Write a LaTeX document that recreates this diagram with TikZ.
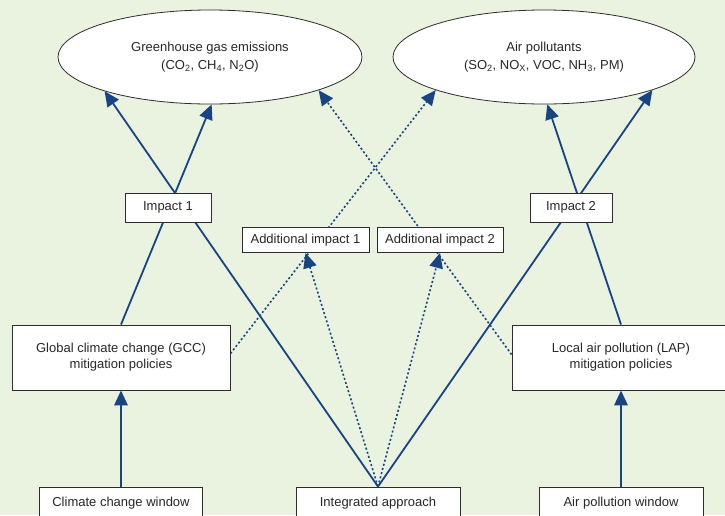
\documentclass[tikz,border=0pt]{standalone}
\usepackage{fontspec}
\setmainfont{Liberation Sans}
\usetikzlibrary{arrows.meta,shapes.geometric}
\definecolor{bgc}{RGB}{234,242,224}
\definecolor{navy}{RGB}{24,68,132}
\definecolor{bordc}{RGB}{45,45,45}
\definecolor{txt}{RGB}{40,40,40}
\pgfdeclarelayer{back}
\pgfdeclarelayer{lines}
\pgfsetlayers{back,lines,main}
\begin{document}
\begin{tikzpicture}[x=1pt,y=-1pt,
  box/.style={draw=bordc, line width=0.9pt, fill=white, text=txt, align=center,
    inner sep=0pt, font=\fontsize{13}{16}\selectfont},
  ell/.style={ellipse, draw=bordc, line width=0.8pt, fill=white, text=txt, align=center,
    inner sep=0pt, font=\fontsize{13}{18}\selectfont},
  conn/.style={draw=navy, line width=1.8pt},
  dotconn/.style={draw=navy, line width=1.6pt, dash pattern=on 2pt off 2.3pt},
  tipped/.style={-{Triangle[length=15pt,width=13.5pt]}}
]
\begin{pgfonlayer}{back}
\fill[bgc] (0,0) rectangle (725,515);
\end{pgfonlayer}
\useasboundingbox (0,0) rectangle (725,515);

% ellipses
\node[ell, minimum width=304pt, minimum height=94pt] (ghg) at (210,57)
  {Greenhouse gas emissions\\(CO\textsubscript{2}, CH\textsubscript{4}, N\textsubscript{2}O)};
\node[ell, minimum width=302pt, minimum height=94pt] (air) at (544,57)
  {Air pollutants\\(SO\textsubscript{2}, NO\textsubscript{X}, VOC, NH\textsubscript{3}, PM)};

% impact boxes
\node[box, minimum width=86pt, minimum height=29pt] (imp1) at (168,207.5) {Impact 1};
\node[box, minimum width=82pt, minimum height=29pt] (imp2) at (571,207.5) {Impact 2};
\node[box, minimum width=127pt, minimum height=25pt] (add1) at (305.5,240) {Additional impact 1};
\node[box, minimum width=126pt, minimum height=25pt] (add2) at (440,240) {Additional impact 2};

% policy boxes
\node[box, minimum width=218pt, minimum height=65pt] (gcc) at (121,357.5)
  {Global climate change (GCC)\\mitigation policies};
\node[box, minimum width=218pt, minimum height=65pt] (lap) at (621,357.5)
  {Local air pollution (LAP)\\mitigation policies};

% window boxes
\node[box, minimum width=163pt, minimum height=32pt] (cw) at (121,503) {Climate change window};
\node[box, minimum width=164pt, minimum height=32pt] (int) at (378,503) {Integrated approach};
\node[box, minimum width=164pt, minimum height=32pt] (apw) at (621,503) {Air pollution window};

\begin{pgfonlayer}{lines}
% solid connectors
\draw[conn, tipped] (int.north) -- (ghg.198);
\draw[conn, tipped] (gcc.north) -- (ghg.272);
\draw[conn, tipped] (lap.north) -- (air.274);
\draw[conn, tipped] (int.north) -- (air.343);
\draw[conn, tipped] (cw.north) -- (gcc.south);
\draw[conn, tipped] (apw.north) -- (lap.south);
% dotted connectors
\draw[dotconn, tipped] ([yshift=4pt]gcc.east) -- (air.197);
\draw[dotconn, tipped] ([yshift=3pt]lap.west) -- (ghg.343);
\draw[dotconn, tipped] (int.north) -- (add1.south);
\draw[dotconn, tipped] (int.north) -- (add2.south);
\end{pgfonlayer}
\end{tikzpicture}
\end{document}
